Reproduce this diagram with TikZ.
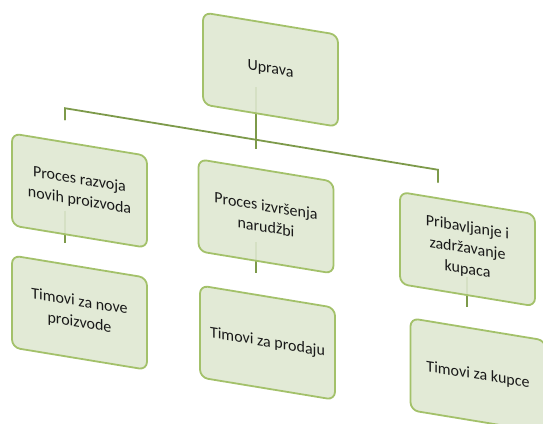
\documentclass[tikz,border=0pt]{standalone}
\usepackage{fontspec}
\setmainfont{Carlito}
\usetikzlibrary{backgrounds}
\definecolor{boxfill}{HTML}{DFE8D2}
\definecolor{boxline}{HTML}{A3C16A}
\definecolor{conn}{HTML}{7D9A4A}
\tikzset{
  orgbox/.style={draw=boxline, line width=1.8pt, fill=boxfill, fill opacity=0.9, text opacity=1,
    rounded corners=8pt, minimum width=135pt, minimum height=92pt, align=center,
    text=black!90, font=\fontsize{16}{21}\selectfont, inner sep=2pt},
  link/.style={draw=conn, line width=1.8pt}
}
\begin{document}
\begin{tikzpicture}
\useasboundingbox (0,0) rectangle (543pt,-423pt);
\clip (0,0) rectangle (543pt,-423pt);
\begin{scope}[x=1pt, y=-1pt, yslant=-0.165, transform shape]
  \node[orgbox] (up) at (270.5,25) {Uprava};
  \node[orgbox] (p1) at (79.5,177.5) {Proces razvoja\\novih proizvoda};
  \node[orgbox] (p2) at (266,172.5) {Proces izvršenja\\narudžbi};
  \node[orgbox] (p3) at (467.5,172) {Pribavljanje i\\zadržavanje\\kupaca};
  \node[orgbox] (t1) at (79.5,299.5) {Timovi za nove\\proizvode};
  \node[orgbox] (t2) at (267.5,298.5) {Timovi za prodaju};
  \node[orgbox] (t3) at (478,296.5) {Timovi za kupce};
  \coordinate (s0) at (256,45);
  \coordinate (sb) at (256,97.5);
  \coordinate (bl) at (65,97.5);
  \coordinate (br) at (438,97.5);
  \coordinate (d1) at (65,109);
  \coordinate (d2) at (256,107);
  \coordinate (d3) at (438,110);
  \coordinate (i1a) at (65,200);
  \coordinate (i1b) at (65,232);
  \coordinate (i2a) at (256,200);
  \coordinate (i2b) at (256,231);
  \coordinate (i3a) at (467,200);
  \coordinate (i3b) at (467,230);
  \begin{pgfonlayer}{background}
    \draw[link] (s0) -- (sb);
    \draw[link, line cap=round] (d1) -- (bl) -- (br) -- (d3);
    \draw[link] (sb) -- (d2);
    \draw[link] (i1a) -- (i1b);
    \draw[link] (i2a) -- (i2b);
    \draw[link] (i3a) -- (i3b);
  \end{pgfonlayer}
\end{scope}
\end{tikzpicture}
\end{document}
